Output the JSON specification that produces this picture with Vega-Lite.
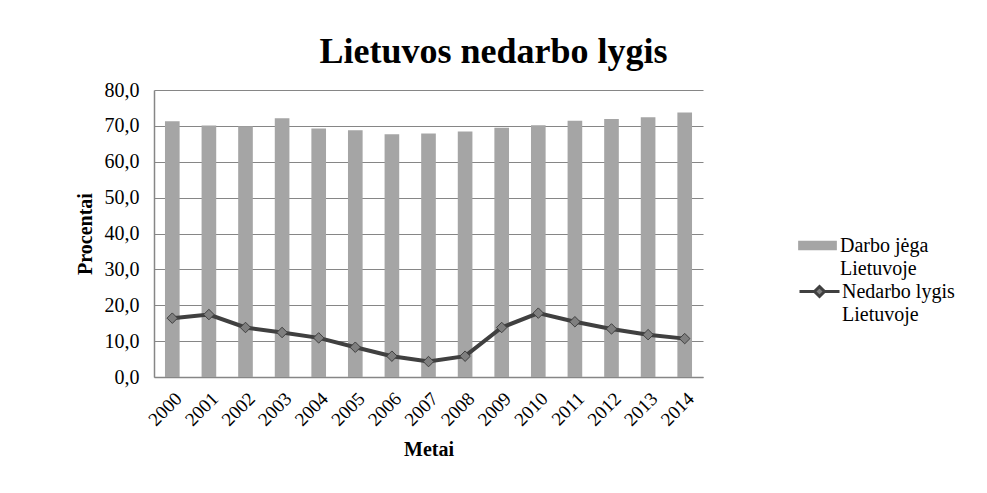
{
  "$schema": "https://vega.github.io/schema/vega-lite/v6.json",
  "autosize": "none",
  "width": 549,
  "height": 287,
  "padding": {"left": 154, "top": 90, "right": 284, "bottom": 116},
  "background": "white",
  "config": {
    "font": "Liberation Serif, serif",
    "view": {"stroke": null},
    "axisY": {
      "titleFont": "Liberation Serif, serif",
      "titleFontSize": 20,
      "titleFontWeight": "bold",
      "titleColor": "black",
      "titlePadding": 9,
      "labelOverlap": false,
      "labelFont": "Liberation Serif, serif",
      "labelFontSize": 20,
      "labelColor": "black",
      "labelPadding": 15,
      "ticks": false,
      "domainColor": "#868686",
      "domainWidth": 1.5,
      "gridColor": "#868686",
      "gridWidth": 1
    }
  },
  "title": {
    "text": "Lietuvos nedarbo lygis",
    "font": "Liberation Serif, serif",
    "fontSize": 36,
    "fontWeight": "bold",
    "color": "black",
    "anchor": "middle",
    "dx": 65,
    "offset": 9
  },
  "data": {
    "values": [
      {"year": "2000", "labor": 71.3, "unemp": 16.4},
      {"year": "2001", "labor": 70.1, "unemp": 17.4},
      {"year": "2002", "labor": 69.9, "unemp": 13.8},
      {"year": "2003", "labor": 72.1, "unemp": 12.4},
      {"year": "2004", "labor": 69.3, "unemp": 10.9},
      {"year": "2005", "labor": 68.8, "unemp": 8.3},
      {"year": "2006", "labor": 67.7, "unemp": 5.8},
      {"year": "2007", "labor": 67.9, "unemp": 4.3},
      {"year": "2008", "labor": 68.4, "unemp": 5.8},
      {"year": "2009", "labor": 69.5, "unemp": 13.8},
      {"year": "2010", "labor": 70.2, "unemp": 17.8},
      {"year": "2011", "labor": 71.4, "unemp": 15.4},
      {"year": "2012", "labor": 71.9, "unemp": 13.4},
      {"year": "2013", "labor": 72.4, "unemp": 11.8},
      {"year": "2014", "labor": 73.7, "unemp": 10.7}
    ]
  },
  "encoding": {
    "x": {
      "field": "year",
      "type": "ordinal",
      "scale": {"paddingInner": 0.6, "paddingOuter": 0.3},
      "axis": {
        "title": "Metai",
        "titleFont": "Liberation Serif, serif",
        "titleFontSize": 20,
        "titleFontWeight": "bold",
        "titleColor": "black",
        "titlePadding": 10,
        "labelAngle": -45,
        "labelFont": "Liberation Serif, serif",
        "labelFontSize": 19,
        "labelColor": "black",
        "labelPadding": 12,
        "labelOverlap": false,
        "ticks": false,
        "domainColor": "#868686",
        "domainWidth": 1.5,
        "grid": false
      }
    }
  },
  "layer": [
    {
      "mark": {"type": "bar", "color": "#a5a5a5"},
      "encoding": {
        "y": {
          "field": "labor",
          "type": "quantitative",
          "scale": {"domain": [0, 80], "nice": false},
          "axis": {
            "title": "Procentai",
            "values": [0, 10, 20, 30, 40, 50, 60, 70, 80],
            "labelExpr": "replace(format(datum.value, '.1f'), '.', ',')"
          }
        },
        "fill": {
          "datum": "Darbo jėga Lietuvoje",
          "scale": {"domain": ["Darbo jėga Lietuvoje"], "range": ["#a5a5a5"]},
          "legend": {
            "title": null,
            "orient": "none",
            "legendX": 644,
            "legendY": 136,
            "symbolType": "M-1,-0.24H1V0.24H-1Z",
            "symbolSize": 1500,
            "symbolStrokeWidth": 0,
            "labelExpr": "['Darbo jėga', 'Lietuvoje']",
            "labelFont": "Liberation Serif, serif",
            "labelFontSize": 20,
            "labelColor": "black",
            "labelOffset": 3,
            "encode": {"labels": {"update": {"lineHeight": {"value": 23}}}}
          }
        }
      }
    },
    {
      "mark": {"type": "line", "color": "#404040", "strokeWidth": 4},
      "encoding": {
        "y": {
          "field": "unemp",
          "type": "quantitative",
          "axis": {
            "title": "Procentai",
            "values": [0, 10, 20, 30, 40, 50, 60, 70, 80],
            "labelExpr": "replace(format(datum.value, '.1f'), '.', ',')"
          }
        },
        "stroke": {
          "datum": "Nedarbo lygis Lietuvoje",
          "scale": {"domain": ["Nedarbo lygis Lietuvoje"], "range": ["#404040"]},
          "legend": {
            "title": null,
            "orient": "none",
            "legendX": 644,
            "legendY": 180,
            "symbolType": "M-1,0H-0.25M0.25,0H1M0,-0.25L0.25,0L0,0.25L-0.25,0Z",
            "symbolSize": 1600,
            "symbolStrokeWidth": 3,
            "symbolFillColor": "#7f7f7f",
            "labelExpr": "['Nedarbo lygis', 'Lietuvoje']",
            "labelFont": "Liberation Serif, serif",
            "labelFontSize": 20,
            "labelColor": "black",
            "labelOffset": 1,
            "encode": {"labels": {"update": {"lineHeight": {"value": 23}}}}
          }
        }
      }
    },
    {
      "mark": {"type": "point", "shape": "diamond", "filled": true, "fill": "#7f7f7f", "stroke": "#404040", "strokeWidth": 1, "size": 110, "opacity": 1},
      "encoding": {
        "y": {
          "field": "unemp",
          "type": "quantitative",
          "axis": {
            "title": "Procentai",
            "values": [0, 10, 20, 30, 40, 50, 60, 70, 80],
            "labelExpr": "replace(format(datum.value, '.1f'), '.', ',')"
          }
        }
      }
    }
  ]
}
